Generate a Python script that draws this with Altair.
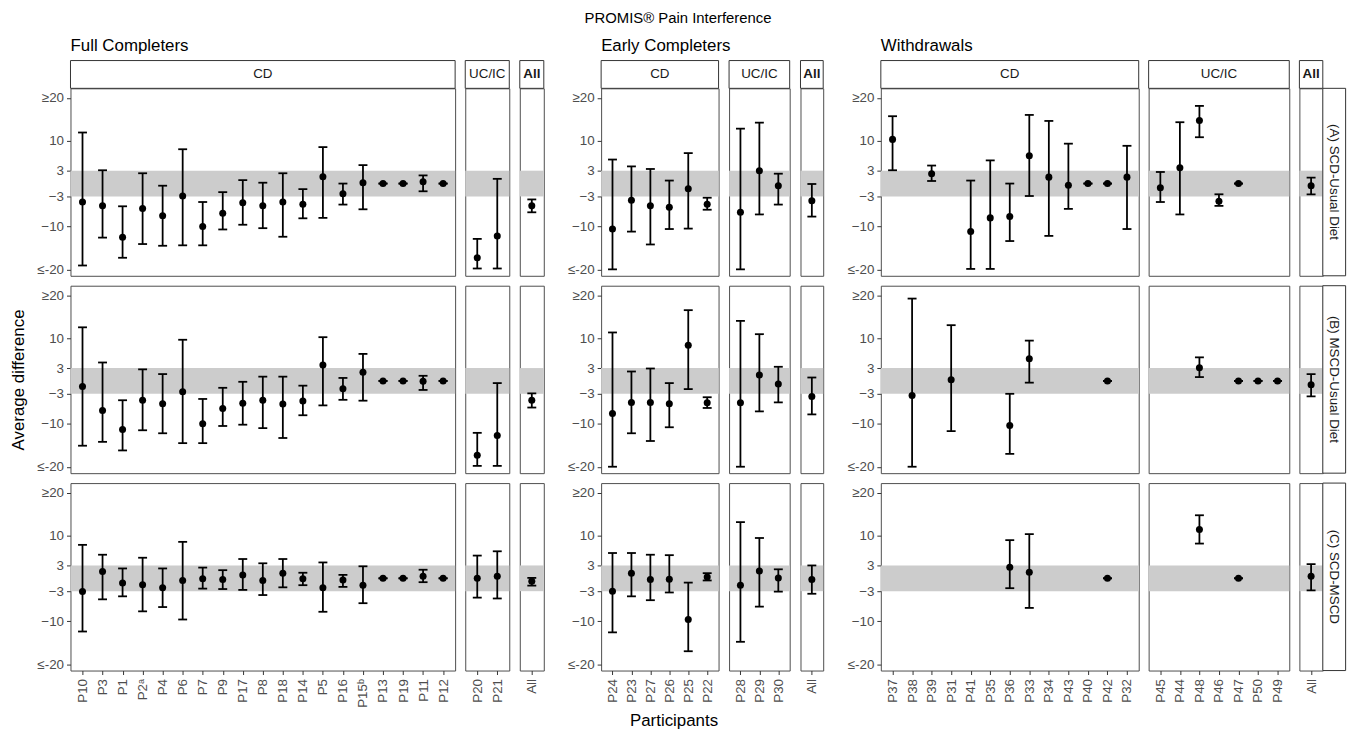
import altair as alt
import pandas as pd

# ---------------- data ----------------
FULL_CD = ["P10", "P3", "P1", "P2ᵃ", "P4", "P6", "P7", "P9", "P17", "P8", "P18",
           "P14", "P5", "P16", "P15ᵇ", "P13", "P19", "P11", "P12"]
FULL_UC = ["P20", "P21"]
EARLY_CD = ["P24", "P23", "P27", "P26", "P25", "P22"]
EARLY_UC = ["P28", "P29", "P30"]
WD_CD = ["P37", "P38", "P39", "P31", "P41", "P35", "P36", "P33", "P34", "P43", "P40", "P42", "P32"]
WD_UC = ["P45", "P44", "P48", "P46", "P47", "P50", "P49"]
ALL = ["All"]

# order in each list: CD participants, UC/IC participants, All
FULL_A_EST = [-4.3, -5.2, -12.5, -5.8, -7.5, -2.9, -10.0, -6.9, -4.5, -5.2, -4.3, -4.8, 1.6, -2.4, 0.2, 0, 0, 0.4, 0, -17.3, -12.2, -5.2]
FULL_A_LO = [-19.1, -12.6, -17.3, -14.1, -14.5, -14.4, -14.4, -10.7, -9.6, -10.4, -12.4, -8.1, -8.0, -4.9, -6.0, 0, 0, -1.8, 0, -19.8, -19.8, -6.7]
FULL_A_HI = [11.9, 3.1, -5.3, 2.4, -0.5, 8.0, -4.3, -2.0, 0.8, 0.2, 2.4, -1.3, 8.5, 0, 4.3, 0, 0, 1.9, 0, -12.9, 1.1, -3.7]

FULL_B_EST = [-1.3, -6.9, -11.3, -4.5, -5.3, -2.5, -10.0, -6.4, -5.2, -4.5, -5.4, -4.7, 3.7, -1.8, 2.0, 0, 0, -0.1, 0, -17.3, -12.7, -4.5]
FULL_B_LO = [-15.1, -14.2, -16.2, -11.5, -12.2, -14.5, -14.5, -10.5, -10.2, -11.0, -13.3, -8.0, -5.7, -4.4, -4.6, 0, 0, -2.1, 0, -19.8, -19.8, -6.2]
FULL_B_HI = [12.5, 4.3, -4.5, 2.7, 1.6, 9.6, -4.2, -1.6, -0.2, 1.0, 1.0, -1.1, 10.2, 0.7, 6.3, 0, 0, 1.2, 0, -12.1, -0.5, -2.9]

FULL_C_EST = [-3.1, 1.6, -1.1, -1.5, -2.2, -0.5, -0.1, -0.3, 0.8, -0.5, 1.2, -0.1, -2.2, -0.4, -1.6, 0, 0, 0.5, 0, 0, 0.5, -0.7]
FULL_C_LO = [-12.4, -4.9, -4.2, -7.7, -6.7, -9.6, -2.4, -2.5, -2.7, -3.9, -2.1, -1.6, -7.8, -2.0, -5.8, 0, 0, -0.9, 0, -4.5, -4.7, -1.7]
FULL_C_HI = [7.8, 5.5, 2.3, 4.8, 2.3, 8.5, 2.5, 1.9, 4.5, 3.5, 4.5, 1.3, 3.7, 0.8, 2.8, 0, 0, 2.0, 0, 5.3, 6.3, 0.1]

EARLY_A_EST = [-10.6, -3.9, -5.2, -5.5, -1.2, -4.8, -6.7, 3.0, -0.5, -4.0]
EARLY_A_LO = [-20, -11.2, -14.2, -10.6, -10.5, -6.1, -20, -7.2, -4.9, -7.7]
EARLY_A_HI = [5.6, 4.0, 3.4, 0.7, 7.1, -3.3, 12.8, 14.2, 2.3, -0.1]

EARLY_B_EST = [-7.6, -5.0, -5.0, -5.3, 8.3, -5.1, -5.1, 1.4, -0.7, -3.6]
EARLY_B_LO = [-20, -12.2, -14.0, -10.8, -1.9, -6.3, -20, -7.1, -5.0, -7.8]
EARLY_B_HI = [11.3, 2.2, 2.9, -0.5, 16.5, -3.8, 14.0, 10.9, 3.3, 0.8]

EARLY_C_EST = [-3.0, 1.2, -0.3, -0.2, -9.6, 0.3, -1.6, 1.7, 0.1, -0.3]
EARLY_C_LO = [-12.6, -4.2, -5.1, -3.3, -17.0, -0.5, -14.8, -6.6, -3.1, -3.6]
EARLY_C_HI = [5.9, 5.9, 5.5, 5.4, -1.0, 1.2, 13.1, 9.4, 2.1, 3.0]

N = None
WD_A_EST = [10.3, N, 2.3, N, -11.2, -8.0, -7.7, 6.5, 1.5, -0.4, 0, 0, 1.5, -1.0, 3.7, 14.7, -4.1, 0, N, N, -0.5]
WD_A_LO = [3.1, N, 0.6, N, -19.9, -19.9, -13.4, -2.9, -12.2, -5.9, 0, 0, -10.6, -4.3, -7.2, 10.8, -5.2, 0, N, N, -2.5]
WD_A_HI = [15.7, N, 4.2, N, 0.7, 5.4, 0, 16.0, 14.6, 9.3, 0, 0, 8.8, 2.7, 14.3, 18.1, -2.5, 0, N, N, 1.4]

WD_B_EST = [N, -3.4, N, 0.3, N, N, -10.4, 5.2, N, N, N, 0, N, N, N, 3.1, N, 0, 0, 0, -0.9]
WD_B_LO = [N, -20, N, -11.7, N, N, -17.0, -0.4, N, N, N, 0, N, N, N, 0.9, N, 0, 0, 0, -3.6]
WD_B_HI = [N, 19.2, N, 13.0, N, N, -3.0, 9.4, N, N, N, 0, N, N, N, 5.5, N, 0, 0, 0, 1.6]

WD_C_EST = [N, N, N, N, N, N, 2.6, 1.4, N, N, N, 0, N, N, N, 11.4, N, 0, N, N, 0.5]
WD_C_LO = [N, N, N, N, N, N, -2.3, -6.9, N, N, N, 0, N, N, N, 8.1, N, 0, N, N, -2.8]
WD_C_HI = [N, N, N, N, N, N, 8.9, 10.3, N, N, N, 0, N, N, N, 14.7, N, 0, N, N, 3.3]

GROUP_TITLES = ["Full Completers", "Early Completers", "Withdrawals"]
STRIP_LABELS = ["CD", "UC/IC", "All"]
ROW_LABELS = ["(A) SCD-Usual Diet", "(B) MSCD-Usual Diet", "(C) SCD-MSCD"]
Y_TICKS = [-20, -10, -3, 3, 10, 20]
BAND = pd.DataFrame({"lo": [-3], "hi": [3]})

GROUPS = [
    dict(ids=[FULL_CD, FULL_UC, ALL], step=20.2,
         rows=[(FULL_A_EST, FULL_A_LO, FULL_A_HI), (FULL_B_EST, FULL_B_LO, FULL_B_HI), (FULL_C_EST, FULL_C_LO, FULL_C_HI)]),
    dict(ids=[EARLY_CD, EARLY_UC, ALL], step=19.1,
         rows=[(EARLY_A_EST, EARLY_A_LO, EARLY_A_HI), (EARLY_B_EST, EARLY_B_LO, EARLY_B_HI), (EARLY_C_EST, EARLY_C_LO, EARLY_C_HI)]),
    dict(ids=[WD_CD, WD_UC, ALL], step=19.7,
         rows=[(WD_A_EST, WD_A_LO, WD_A_HI), (WD_B_EST, WD_B_LO, WD_B_HI), (WD_C_EST, WD_C_LO, WD_C_HI)]),
]
GAP_BEFORE = [None, 37, 38]   # empty room for the y-axis of the next group

# ---------------- styling ----------------
H = 189
FONT = "Liberation Sans"
YSCALE = alt.Scale(domain=[-21.5, 22.2], nice=False, zero=False)
LABEL_EXPR = "datum.value >= 20 ? '≥20' : (datum.value <= -20 ? '≤-20' : datum.label)"


def panel(gi, ki, ri):
    g = GROUPS[gi]
    ids = g["ids"][ki]
    start = sum(len(x) for x in g["ids"][:ki])
    est, lo, hi = (arr[start:start + len(ids)] for arr in g["rows"][ri])
    df = pd.DataFrame({"id": ids, "est": est, "lo": lo, "hi": hi}).dropna()
    W = round(g["step"] * (len(ids) - 1 + 1.2), 1)

    if ri == 2:
        is_title = gi == 1 and ki == 0
        xaxis = alt.Axis(labelAngle=270, labelFontSize=13.5, labelColor="#4d4d4d", labelFont=FONT,
                         tickColor="#333333", tickSize=4, labelPadding=4, domain=False, grid=False,
                         title=("Participants" if is_title else None),
                         titleFontSize=17, titleFontWeight="normal", titleColor="black",
                         titleFont=FONT, titlePadding=10,
                         **({"titleX": 73} if is_title else {}))
    else:
        xaxis = None
    xenc = alt.X("id:N", scale=alt.Scale(type="point", domain=ids, padding=0.6), axis=xaxis, title=None)

    if ki == 0:
        ytitle = "Average difference" if (gi == 0 and ri == 1) else None
        yaxis = alt.Axis(values=Y_TICKS, labelExpr=LABEL_EXPR, labelFontSize=13.5, labelColor="#4d4d4d",
                         labelFont=FONT, tickColor="#333333", tickSize=4, labelPadding=3,
                         domain=False, grid=False, minExtent=40, maxExtent=40,
                         title=ytitle, titleFontSize=17, titleFontWeight="normal", titleColor="black",
                         titleFont=FONT, titlePadding=3)
    else:
        yaxis = None
        ytitle = None

    def yenc(field):
        return alt.Y(field + ":Q", scale=YSCALE, axis=yaxis, title=ytitle)

    band = alt.Chart(BAND).mark_rect(color="#cccccc").encode(
        x=alt.value(0), x2=alt.value(W), y=yenc("lo"), y2=alt.Y2("hi"))
    rule = alt.Chart(df).mark_rule(color="black", strokeWidth=1.8).encode(
        x=xenc, y=yenc("lo"), y2=alt.Y2("hi"))
    cap_lo = alt.Chart(df).mark_tick(color="black", thickness=1.8, size=9, orient="horizontal", opacity=1).encode(
        x=xenc, y=yenc("lo"))
    cap_hi = alt.Chart(df).mark_tick(color="black", thickness=1.8, size=9, orient="horizontal", opacity=1).encode(
        x=xenc, y=yenc("hi"))
    pts = alt.Chart(df).mark_circle(color="black", size=50, opacity=1).encode(
        x=xenc, y=yenc("est"))
    layers = [band, rule, cap_lo, cap_hi, pts]

    if ri == 0:
        strip = alt.Chart(BAND).mark_rect(fill="white", stroke="#333333", strokeWidth=1).encode(
            x=alt.value(0), x2=alt.value(W), y=alt.value(-28), y2=alt.value(0))
        stext = alt.Chart(BAND).mark_text(fontSize=13.5, font=FONT, color="#1a1a1a",
                                          fontWeight=("bold" if ki == 2 else "normal")).encode(
            x=alt.value(W / 2), y=alt.value(-14), text=alt.value(STRIP_LABELS[ki]))
        layers += [strip, stext]
    if gi == 2 and ki == 2:
        rstrip = alt.Chart(BAND).mark_rect(fill="white", stroke="#333333", strokeWidth=1).encode(
            x=alt.value(W), x2=alt.value(W + 23), y=alt.value(0), y2=alt.value(H))
        rtext = alt.Chart(BAND).mark_text(fontSize=13.5, font=FONT, color="#1a1a1a", angle=90).encode(
            x=alt.value(W + 11.5), y=alt.value(H / 2), text=alt.value(ROW_LABELS[ri]))
        layers += [rstrip, rtext]

    ch = alt.layer(*layers).properties(width=W, height=H)
    if ri == 0 and ki == 0:
        ch = ch.properties(title=alt.TitleParams(GROUP_TITLES[gi], anchor="start", frame="group",
                                                 fontSize=17, fontWeight="normal", font=FONT,
                                                 color="black", offset=5))
    return ch


def spacer(w):
    return alt.Chart(BAND).mark_point(opacity=0).encode(
        x=alt.value(0), y=alt.value(0)
    ).properties(width=w, height=H, view=alt.ViewBackground(stroke=None, fill=None))


charts = []
for ri in range(3):
    for gi in range(3):
        if GAP_BEFORE[gi]:
            charts.append(spacer(GAP_BEFORE[gi]))
        for ki in range(3):
            charts.append(panel(gi, ki, ri))

chart = alt.concat(*charts, columns=11, spacing=10, bounds="flush").properties(
    title=alt.TitleParams("PROMIS® Pain Interference", anchor="middle", fontSize=15,
                          fontWeight="normal", font=FONT, color="black", offset=0, dy=-11),
    padding={"left": 1, "top": 0, "right": 0, "bottom": 4},
).configure_view(stroke="#4d4d4d", strokeWidth=1).configure_axis(grid=False)

chart.save("out.html", embed_options={"renderer": "svg", "actions": False})
